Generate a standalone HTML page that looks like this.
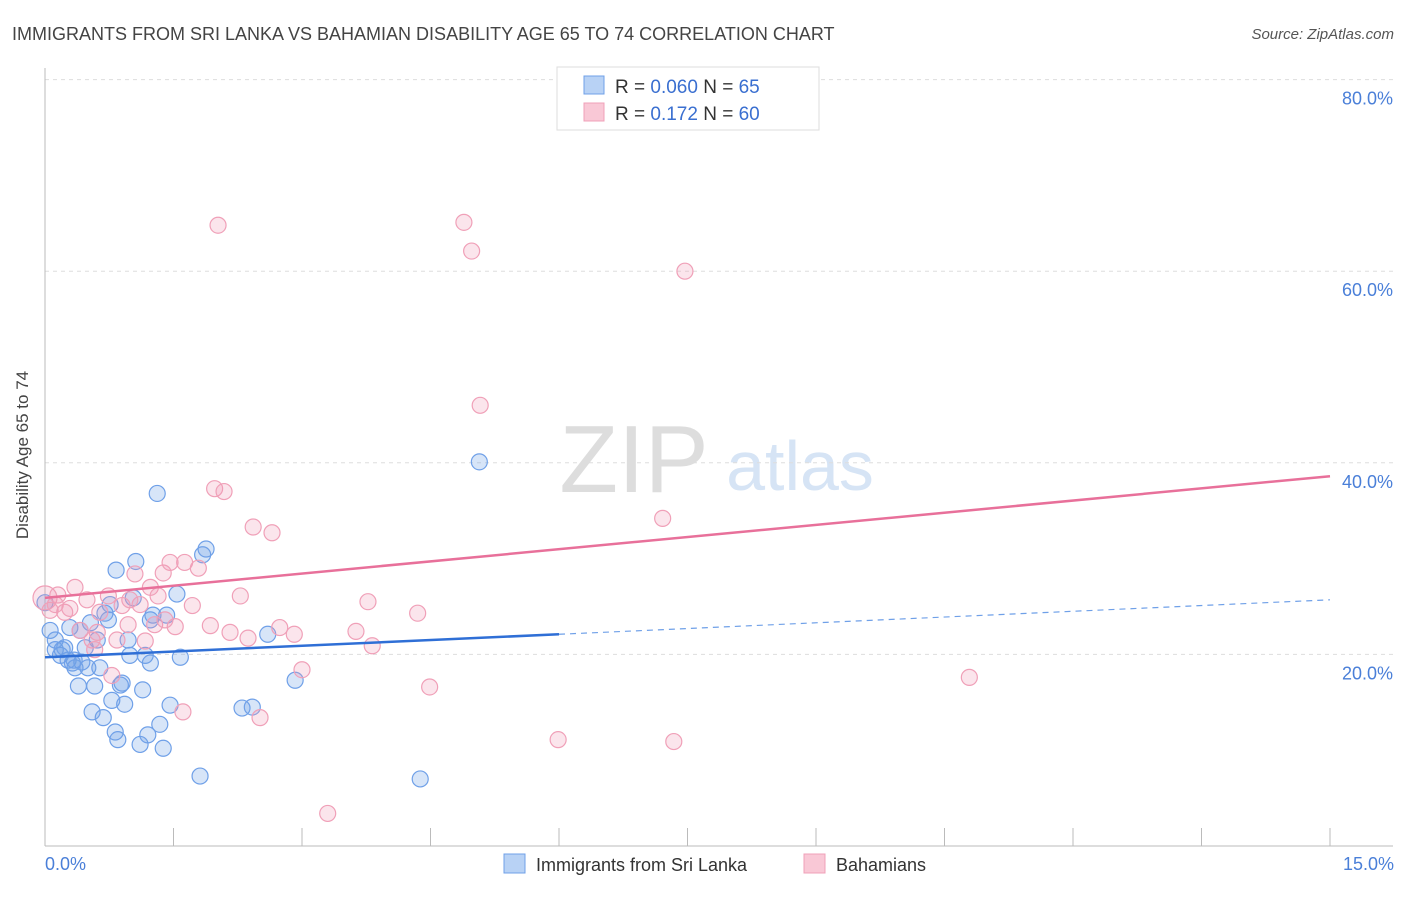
<!DOCTYPE html>
<html><head><meta charset="utf-8"><style>
body{margin:0;background:#fff;font-family:"Liberation Sans",sans-serif;}
svg text{font-family:"Liberation Sans",sans-serif;}
</style></head><body>
<svg id="c" width="1406" height="892">
<text x="12" y="40" font-size="18" fill="#444">IMMIGRANTS FROM SRI LANKA VS BAHAMIAN DISABILITY AGE 65 TO 74 CORRELATION CHART</text>
<text x="1394" y="39" font-size="15" fill="#555" font-style="italic" text-anchor="end">Source: ZipAtlas.com</text>
<text x="634" y="492" font-size="96" fill="#ddd" font-family="Liberation Serif" text-anchor="middle">ZIP</text>
<text x="800" y="490" font-size="70" fill="#d6e4f5" text-anchor="middle">atlas</text>
<g id="grid"></g>
<g id="axes"></g>
<g id="pts"></g>
<g id="lines"></g>
<text x="28" y="455" font-size="17" fill="#444" text-anchor="middle" transform="rotate(-90 28 455)">Disability Age 65 to 74</text>
<text x="45" y="870" font-size="18" fill="#4a7fd8">0.0%</text>
<text x="1394" y="870" font-size="18" fill="#4a7fd8" text-anchor="end">15.0%</text>
<g>
<rect x="557" y="67" width="262" height="63" fill="#fff" stroke="#ddd"/>
<rect x="584" y="76" width="20" height="18" fill="#b8d2f5" stroke="#6fa0e8"/>
<text x="615" y="93" font-size="19" fill="#333">R = <tspan fill="#3a6fd0">0.060</tspan>   N = <tspan fill="#3a6fd0">65</tspan></text>
<rect x="584" y="103" width="20" height="18" fill="#f9c8d6" stroke="#f0a0b8"/>
<text x="615" y="120" font-size="19" fill="#333">R =   <tspan fill="#3a6fd0">0.172</tspan>   N = <tspan fill="#3a6fd0">60</tspan></text>
</g>
<g>
<rect x="504" y="854" width="21" height="19" fill="#b8d2f5" stroke="#6fa0e8"/>
<text x="536" y="871" font-size="18" fill="#333">Immigrants from Sri Lanka</text>
<rect x="804" y="854" width="21" height="19" fill="#f9c8d6" stroke="#f0a0b8"/>
<text x="836" y="871" font-size="18" fill="#333">Bahamians</text>
</g>
</svg>
<script>
const yTicks=[20,40,60,80];
const xTickVals=[0,1.5,3,4.5,6,7.5,9,10.5,12,13.5,15];
const blueX=[0,0.06,0.12,0.12,0.18,0.23,0.27,0.29,0.32,0.35,0.39,0.41,0.43,0.47,0.5,0.55,0.58,0.61,0.64,0.68,0.7,0.74,0.76,0.78,0.82,0.83,0.85,0.9,0.93,0.97,0.99,1.03,1.06,1.11,1.14,1.17,1.2,1.23,1.26,1.31,1.34,1.38,1.42,1.46,1.54,1.58,1.81,1.84,1.88,2.3,2.42,2.6,2.92,4.38,5.07,0.53,0.2,0.34,0.88,1.23];
const blueY=[25.4,22.5,21.5,20.5,19.9,20.7,19.4,22.8,19.1,18.6,16.7,22.5,19.2,20.7,18.6,14.0,16.7,21.5,18.6,13.4,24.3,23.6,25.2,15.2,11.9,28.8,11.1,17.0,14.8,21.5,19.9,25.9,29.7,10.6,16.3,19.9,11.6,19.1,24.1,36.8,12.7,10.2,24.1,14.7,26.3,19.7,7.3,30.4,31.0,14.4,14.5,22.1,17.3,7.0,40.1,23.3,20.5,19.4,16.8,23.6];
const pinkX=[0,0.06,0.15,0.23,0.35,0.41,0.49,0.55,0.61,0.64,0.74,0.78,0.84,0.9,0.97,1.05,1.11,1.17,1.23,1.28,1.32,1.38,1.46,1.52,1.61,1.63,1.72,1.79,1.93,2.02,1.98,2.09,2.16,2.28,2.37,2.43,2.51,2.65,2.74,2.91,3.0,3.3,3.63,3.77,3.82,4.35,4.49,4.89,4.98,5.08,5.99,7.21,7.34,7.47,10.79,0.12,0.29,0.58,0.99,1.4];
const pinkY=[25.9,24.6,26.2,24.4,27.0,22.5,25.7,21.5,22.3,24.4,26.1,17.8,21.5,25.1,23.1,28.4,25.2,21.4,27.0,23.1,26.1,28.5,29.6,22.9,14.0,29.6,25.1,29.0,23.0,64.8,37.3,37.0,22.3,26.1,21.7,33.3,13.4,32.7,22.8,22.1,18.4,3.4,22.4,25.5,20.9,24.3,16.6,65.1,62.1,46.0,11.1,34.2,10.9,60.0,17.6,25.2,24.8,20.5,25.7,23.6];
const blueTrend=[19.7,25.7];
const blueSolidEnd=6;
const pinkTrend=[25.9,38.6];
const X=v=>45+v*(1285/15);
const Y=v=>846-v*9.58;
const NS='http://www.w3.org/2000/svg';
function mk(tag,attrs,parent){const e=document.createElementNS(NS,tag);for(const k in attrs)e.setAttribute(k,attrs[k]);document.getElementById(parent).appendChild(e);return e;}
yTicks.forEach(t=>{
 const g=mk('line',{x1:45,x2:1393,y1:Y(t),y2:Y(t),stroke:'#ddd','stroke-dasharray':'4,4'},'grid');
 
 
 const l=mk('text',{x:1393,y:Y(t)+25,'font-size':18,fill:'#4a7fd8','text-anchor':'end'},'grid');
 l.textContent=t.toFixed(1)+'%';
 
 
});
const ya=mk('line',{x1:45,x2:45,y1:68,y2:846,stroke:'#bbb'},'axes');


const xa=mk('line',{x1:45,x2:1393,y1:846,y2:846,stroke:'#bbb'},'axes');


xTickVals.forEach(t=>{
 const e=mk('line',{x1:X(t),x2:X(t),y1:828,y2:846,stroke:'#bbb'},'axes');
 
 
});
blueX.forEach((x,i)=>{
 const c=mk('circle',{cx:X(x),cy:Y(blueY[i]),r:8,fill:'rgba(110,160,230,0.28)',stroke:'#6fa0e8','stroke-width':1.2},'pts');
 
 
});
pinkX.forEach((x,i)=>{
 const c=mk('circle',{cx:X(x),cy:Y(pinkY[i]),r:i==0?12:8,fill:'rgba(240,150,180,0.25)',stroke:'#f0a0b8','stroke-width':1.2},'pts');
 
 
});
const bAt=v=>blueTrend[0]+(blueTrend[1]-blueTrend[0])*v/15;
const b1=mk('line',{x1:X(0),y1:Y(bAt(0)),x2:X(blueSolidEnd),y2:Y(bAt(blueSolidEnd)),stroke:'#2f6fd6','stroke-width':2.5},'lines');


const b2=mk('line',{x1:X(blueSolidEnd),y1:Y(bAt(blueSolidEnd)),x2:X(15),y2:Y(bAt(15)),stroke:'#6fa0e8','stroke-width':1.2,'stroke-dasharray':'6,5'},'lines');


const p1=mk('line',{x1:X(0),y1:Y(pinkTrend[0]),x2:X(15),y2:Y(pinkTrend[1]),stroke:'#e8709a','stroke-width':2.5},'lines');


</script>
</body></html>
